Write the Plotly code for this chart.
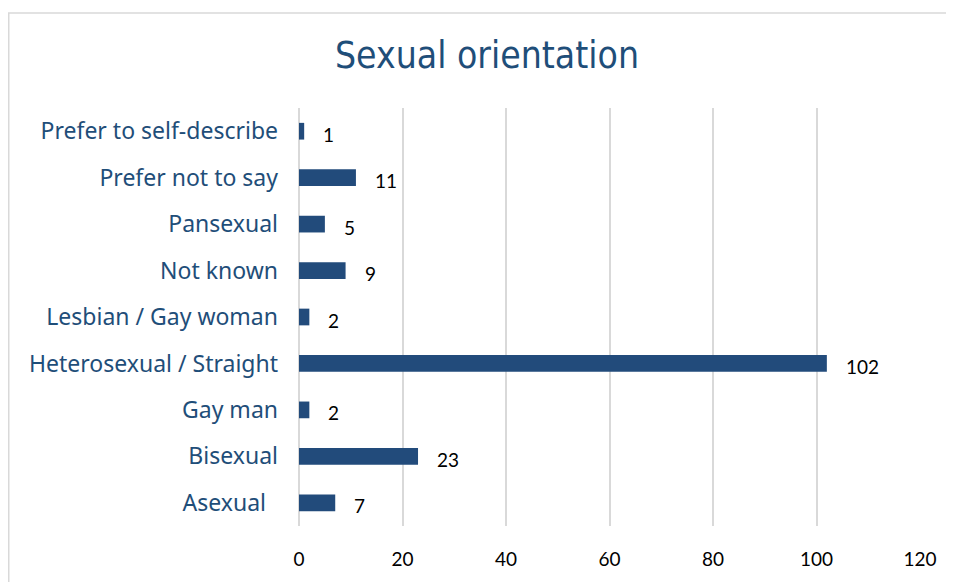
import plotly.graph_objects as go

categories = ["Asexual\u00a0\u00a0", "Bisexual", "Gay man", "Heterosexual / Straight",
              "Lesbian / Gay woman", "Not known", "Pansexual",
              "Prefer not to say", "Prefer to self-describe"]
values = [7, 23, 2, 102, 2, 9, 5, 11, 1]
tick_vals = [0, 20, 40, 60, 80, 100, 120]

bar_color = "#224B7B"
text_blue = "#1F4E79"

W, H = 946, 574
L, T = 291, 100
PW, PH = 621, 418

fig = go.Figure()
fig.add_trace(go.Bar(
    x=values, y=categories, orientation="h",
    marker=dict(color=bar_color, line=dict(width=0)),
    width=0.36, hoverinfo="skip",
))

label_annotations = [
    dict(x=v, y=c, xref="x", yref="y", text=str(v), showarrow=False,
         xanchor="left", yanchor="middle", xshift=17, yshift=-3,
         font=dict(family="Lato", size=19, color="#000000"))
    for c, v in zip(categories, values)
]

fig.update_layout(
    width=W, height=H,
    margin=dict(l=L, r=W - L - PW, t=T, b=H - T - PH),
    paper_bgcolor="white", plot_bgcolor="white",
    showlegend=False,
    title=dict(text="Sexual orientation", x=479 / W, xref="container", xanchor="center",
               y=1 - 47 / H, yref="container", yanchor="middle",
               font=dict(family="DejaVu Sans Condensed, DejaVu Sans", size=37, color=text_blue)),
    xaxis=dict(range=[0, 120], tickvals=tick_vals, showgrid=True,
               gridcolor="#D9D9D9", gridwidth=1.5, zeroline=True,
               zerolinecolor="#D9D9D9", zerolinewidth=1.5,
               showline=False, ticks="",
               tickfont=dict(family="Lato", size=19, color="#000000"),
               ticklabelstandoff=20),
    yaxis=dict(showgrid=False, zeroline=False, showline=False, ticks="",
               tickfont=dict(family="Noto Sans", size=23, color=text_blue),
               ticklabelstandoff=20, range=[-0.5, 8.5]),
    annotations=label_annotations,
    shapes=[dict(type="rect", xref="paper", yref="paper",
                 x0=(0.75 - L) / PW, x1=(943 - L) / PW,
                 y0=(T + PH - 600) / PH, y1=(T + PH - 5) / PH,
                 line=dict(color="#D9D9D9", width=1.5), fillcolor="rgba(0,0,0,0)",
                 layer="below")],
)

fig.write_html("out.html")
